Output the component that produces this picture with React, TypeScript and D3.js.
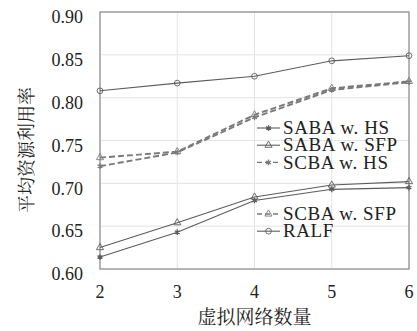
import React from 'react';
import * as d3 from 'd3';

// chart values
const networks = [2, 3, 4, 5, 6];
const yTicks = [0.6, 0.65, 0.7, 0.75, 0.8, 0.85, 0.9];

const sabaHS = [0.614, 0.643, 0.68, 0.693, 0.695];
const sabaSFP = [0.625, 0.654, 0.684, 0.698, 0.702];
const scbaHS = [0.72, 0.736, 0.777, 0.809, 0.818];
const scbaSFP = [0.73, 0.737, 0.78, 0.811, 0.819];
const ralf = [0.808, 0.817, 0.825, 0.843, 0.849];

const seriesNames = ['SABA w. HS', 'SABA w. SFP', 'SCBA w. HS', 'SCBA w. SFP', 'RALF'];

const xTitle = '虚拟网络数量';
const yTitle = '平均资源利用率';

const W = 417;
const H = 331;
const margin = { top: 12, right: 8, bottom: 62, left: 100 };
const innerW = W - margin.left - margin.right;
const innerH = H - margin.top - margin.bottom;

const latin = 'Liberation Serif';
const cjk = 'Noto Serif CJK SC';

type Marker = 'star' | 'triangle' | 'circle';
const series = [
  { name: seriesNames[0], values: sabaHS, dashed: false, marker: 'star' as Marker },
  { name: seriesNames[1], values: sabaSFP, dashed: false, marker: 'triangle' as Marker },
  { name: seriesNames[2], values: scbaHS, dashed: true, marker: 'star' as Marker },
  { name: seriesNames[3], values: scbaSFP, dashed: true, marker: 'triangle' as Marker },
  { name: seriesNames[4], values: ralf, dashed: false, marker: 'circle' as Marker },
];
// legend rows (the 4th slot is left empty in the original)
const legendRows = [0, 1, 2, 5, 6];

const xScale = d3.scaleLinear().domain([2, 6]).range([0, innerW]);
const yScale = d3.scaleLinear().domain([0.6, 0.9]).range([innerH, 0]);

const symbolPath = (m: Marker) => {
  if (m === 'star') return d3.symbol(d3.symbolAsterisk, 22)()!;
  if (m === 'triangle') return d3.symbol(d3.symbolTriangle, 22)()!;
  return d3.symbol(d3.symbolCircle, 26)()!;
};

const MarkerShape = ({ m, x, y, color }: { m: Marker; x: number; y: number; color: string }) => (
  <path
    d={symbolPath(m)}
    transform={`translate(${x},${y})`}
    fill={m === 'star' ? color : 'none'}
    stroke={color}
    strokeWidth={m === 'star' ? 1.3 : 0.9}
  />
);

export default function App() {
  const line = d3
    .line<number>()
    .x((_, i) => xScale(networks[i]))
    .y((d) => yScale(d));

  const serif = { fontFamily: latin };
  const song = { fontFamily: cjk };

  return (
    <svg width={W} height={H} style={{ position: 'absolute', left: 0, top: 0, background: '#fff' }}>
      <g transform={`translate(${margin.left},${margin.top})`}>
        {/* grid */}
        {yTicks.map((t) => (
          <line key={'gy' + t} x1={0} x2={innerW} y1={yScale(t)} y2={yScale(t)} stroke="#e3e3e3" strokeWidth={1} />
        ))}
        {networks.map((t) => (
          <line key={'gx' + t} x1={xScale(t)} x2={xScale(t)} y1={0} y2={innerH} stroke="#e3e3e3" strokeWidth={1} />
        ))}
        {/* frame */}
        <rect x={0} y={0} width={innerW} height={innerH} fill="none" stroke="#9a9a9a" strokeWidth={1.4} />

        {/* y tick labels */}
        {yTicks.map((t) => (
          <text
            key={'ty' + t}
            x={-17}
            y={yScale(t) + 5}
            dy="0.35em"
            textAnchor="end"
            style={serif}
            fontSize={18}
            fill="#222"
          >
            {d3.format('.2f')(t)}
          </text>
        ))}
        {/* x tick labels */}
        {networks.map((t) => (
          <text
            key={'tx' + t}
            x={xScale(t)}
            y={innerH + 23}
            dy="0.35em"
            textAnchor="middle"
            style={serif}
            fontSize={18}
            fill="#222"
          >
            {t}
          </text>
        ))}

        {/* series */}
        {series.map((s) => {
          const color = s.dashed ? '#7a7a7a' : '#5c5c5c';
          return (
            <g key={s.name}>
              <path
                d={line(s.values)!}
                fill="none"
                stroke={color}
                strokeWidth={s.dashed ? 1.9 : 1.1}
                strokeDasharray={s.dashed ? '6,3' : undefined}
              />
              {s.values.map((v, i) => (
                <MarkerShape key={i} m={s.marker} x={xScale(networks[i])} y={yScale(v)} color={color} />
              ))}
            </g>
          );
        })}
      </g>

      {/* legend */}
      <g transform="translate(257,128)">
        {series.map((s, i) => {
          const color = s.dashed ? '#7a7a7a' : '#5c5c5c';
          const y = legendRows[i] * 17.2;
          return (
            <g key={'lg' + s.name} transform={`translate(0,${y})`}>
              <line
                x1={0}
                x2={23}
                y1={0}
                y2={0}
                stroke={color}
                strokeWidth={s.dashed ? 1.4 : 1.1}
                strokeDasharray={s.dashed ? '5,3' : undefined}
              />
              <MarkerShape m={s.marker} x={11.5} y={0} color={color} />
              <text x={26} y={0} dy="0.33em" style={serif} fontSize={19} letterSpacing={0.6} fill="#222">
                {s.name}
              </text>
            </g>
          );
        })}
      </g>

      {/* axis titles */}
      <text
        x={margin.left + innerW / 2}
        y={317}
        dy="0.35em"
        textAnchor="middle"
        style={song}
        fontSize={19}
        fill="#222"
      >
        {xTitle}
      </text>
      <text
        transform={`translate(27,150) rotate(-90)`}
        dy="0.35em"
        textAnchor="middle"
        style={song}
        fontSize={18}
        fill="#222"
      >
        {yTitle}
      </text>
    </svg>
  );
}
